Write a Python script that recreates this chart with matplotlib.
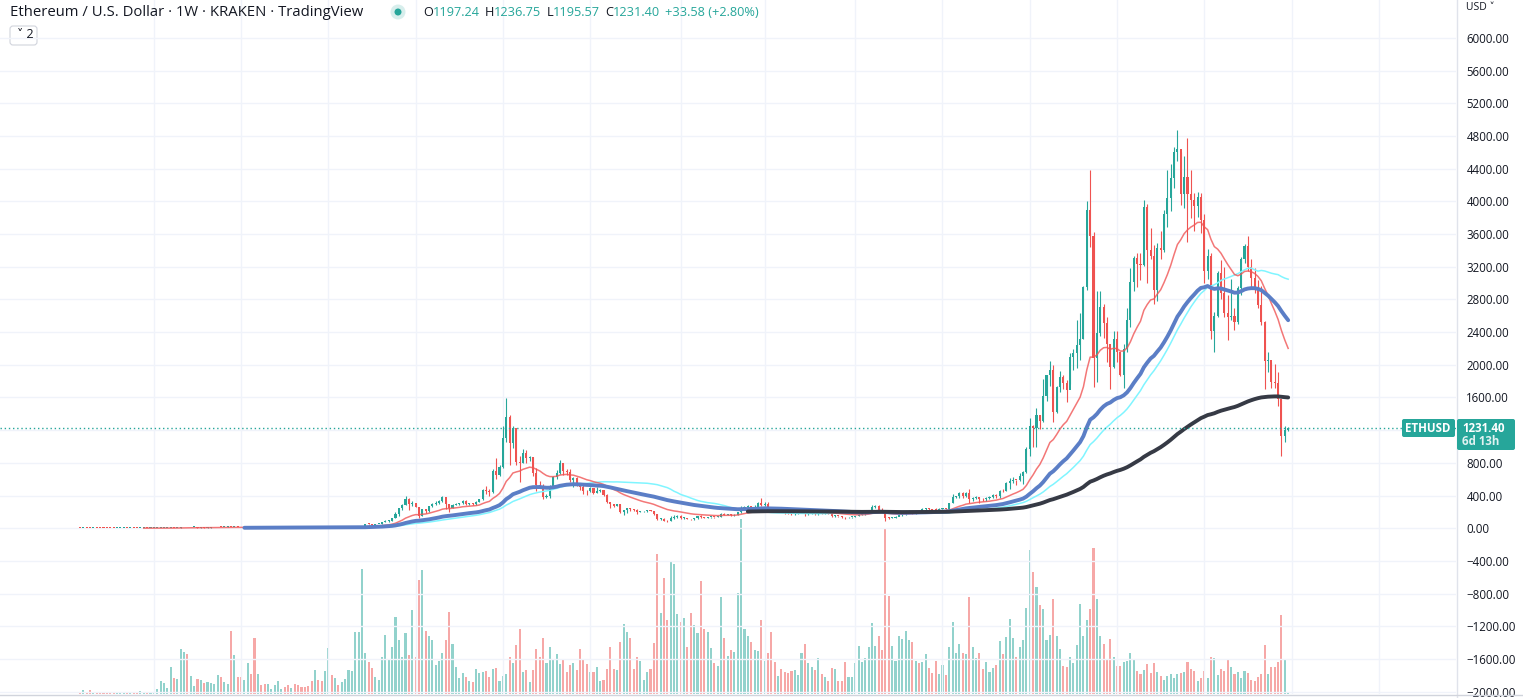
import datetime as dt

import matplotlib
matplotlib.use("Agg")
import matplotlib.pyplot as plt
import numpy as np
from matplotlib.patches import Circle, FancyBboxPatch

# weekly Kraken ETH/USD bars, first week starts Mon 2015-08-03
first_week = dt.date(2015, 8, 3)
first_open = 2.80

close_2015 = [0.75, 1.20, 1.15, 1.10, 1.35, 1.20, 0.95, 0.90, 0.73, 0.63, 0.58, 0.60, 1.00, 1.05, 0.92,
              0.95, 0.88, 0.85, 0.88, 0.92, 0.88, 0.93]
high_2015 = [3.00, 1.60, 1.45, 1.30, 1.40, 1.40, 1.25, 0.98, 0.92, 0.75, 0.65, 0.62, 1.20, 1.30, 1.08,
             1.00, 0.98, 0.90, 0.92, 0.98, 0.95, 0.96]
low_2015 = [0.70, 0.70, 1.05, 1.05, 1.08, 1.15, 0.90, 0.82, 0.65, 0.58, 0.48, 0.42, 0.58, 0.85, 0.85,
            0.85, 0.85, 0.80, 0.82, 0.84, 0.84, 0.85]

close_2016 = [0.97, 1.25, 1.50, 2.30, 2.50, 5.30, 4.40, 6.40, 9.90, 13.0, 10.6, 11.7, 11.8, 8.6, 9.4,
              7.5, 8.8, 9.4, 9.9, 13.0, 12.5, 14.0, 17.5, 12.0, 13.6, 12.0, 11.0, 11.6, 12.9, 12.4,
              11.0, 11.3, 11.0, 10.8, 11.8, 12.2, 12.5, 13.0, 13.2, 11.8, 11.7, 12.0, 11.2, 10.9, 10.0,
              9.6, 8.7, 8.2, 8.4, 7.9, 7.3, 7.95]
high_2016 = [1.00, 1.30, 1.60, 2.50, 2.70, 5.60, 5.50, 6.50, 10.5, 15.3, 13.5, 12.0, 12.2, 12.0, 9.8,
             9.5, 9.0, 9.8, 10.4, 14.5, 14.0, 14.5, 21.5, 20.0, 14.5, 14.5, 12.2, 12.5, 15.5, 14.5,
             12.7, 12.3, 11.4, 11.2, 12.2, 12.6, 12.9, 14.4, 14.0, 13.8, 12.4, 12.5, 12.2, 11.3, 11.4,
             10.2, 10.0, 8.9, 8.8, 8.6, 8.2, 8.1]
low_2016 = [0.90, 0.95, 1.20, 1.45, 2.20, 2.50, 4.20, 4.30, 6.30, 9.80, 10.2, 10.0, 11.0, 8.2, 8.3,
            7.2, 7.0, 8.6, 9.0, 9.8, 12.2, 11.9, 13.5, 10.5, 11.8, 11.5, 10.6, 10.8, 11.5, 11.9,
            5.9, 10.6, 10.6, 10.6, 10.7, 11.7, 11.8, 12.3, 12.6, 11.7, 11.4, 11.6, 11.0, 10.5, 9.6,
            9.0, 7.6, 7.9, 7.7, 7.7, 7.0, 7.2]

close_2017 = [9.8, 9.6, 10.6, 10.5, 10.7, 11.3, 12.8, 13.0, 16.2, 19.5, 28.5, 50.0, 48.0, 43.0, 48.0,
              49.0, 79.0, 87.0, 89.0, 123, 170, 250, 280, 360, 300, 305, 265, 155, 230, 205,
              270, 300, 310, 335, 380, 295, 250, 285, 300, 305, 335, 300, 305, 300, 315,
              355, 470, 460, 440, 700, 650, 750]
high_2017 = [10.3, 11.0, 11.0, 11.2, 11.5, 11.9, 13.2, 14.0, 16.5, 20.5, 30.0, 53.0, 55.0, 51.0, 50.0,
             51.0, 80.0, 98.0, 96.0, 128, 200, 250, 300, 400, 370, 330, 300, 265, 240, 230,
             270, 310, 335, 340, 390, 350, 300, 300, 310, 310, 350, 350, 310, 310, 330,
             360, 475, 520, 480, 720, 860, 770]
low_2017 = [7.9, 9.5, 9.6, 10.3, 10.4, 10.6, 11.2, 12.6, 12.9, 15.8, 19.5, 28.0, 40.0, 41.0, 42.5,
            47.0, 48.0, 71.0, 79.0, 86.0, 120, 150, 220, 280, 220, 270, 260, 130, 150, 190,
            200, 255, 280, 300, 325, 235, 195, 245, 280, 290, 300, 290, 280, 290, 290,
            315, 350, 420, 400, 435, 600, 640]

close_2018 = [1100, 1365, 1045, 1225, 815, 800, 925, 860, 870, 675, 530, 520, 380, 400, 510,
              625, 674, 796, 700, 690, 594, 620, 525, 500, 455, 450, 490, 435, 460, 470,
              405, 320, 295, 275, 295, 197, 220, 245, 232, 226, 200, 205, 206, 220, 212,
              176, 115, 117, 92, 84, 130, 135, 155]
high_2018 = [1250, 1590, 1390, 1250, 1230, 880, 975, 960, 890, 870, 735, 575, 540, 420, 530,
             640, 715, 835, 800, 730, 720, 630, 630, 540, 545, 470, 500, 490, 505, 485,
             470, 415, 310, 300, 300, 295, 225, 250, 245, 235, 230, 215, 210, 225, 225,
             215, 178, 130, 120, 95, 145, 158, 160]
low_2018 = [740, 1050, 770, 980, 770, 570, 800, 800, 820, 640, 460, 490, 360, 365, 370,
            490, 600, 660, 650, 650, 570, 510, 520, 470, 420, 410, 440, 420, 430, 440,
            400, 310, 250, 265, 270, 190, 165, 190, 210, 215, 180, 195, 195, 195, 205,
            165, 105, 105, 85, 82, 84, 115, 130]

close_2019 = [125, 128, 115, 107, 120, 145, 137, 131, 134, 137, 136, 141, 178, 167, 170,
              157, 162, 195, 250, 265, 268, 245, 262, 310, 290, 295, 225, 220, 212, 222,
              210, 195, 188, 172, 181, 197, 215, 168, 180, 188, 173, 182, 180, 185, 176,
              150, 151, 148, 141, 133, 134, 137]
high_2019 = [160, 132, 125, 117, 125, 150, 165, 140, 140, 140, 142, 145, 185, 185, 180,
             175, 168, 200, 275, 275, 285, 255, 280, 320, 365, 320, 315, 235, 225, 240,
             238, 215, 200, 190, 185, 202, 225, 215, 185, 198, 185, 198, 192, 196, 190,
             180, 160, 152, 150, 140, 135, 139]
low_2019 = [115, 115, 110, 102, 104, 118, 130, 128, 125, 131, 131, 132, 140, 160, 163,
            150, 155, 160, 185, 235, 235, 225, 240, 262, 275, 270, 195, 205, 200, 205,
            198, 175, 180, 165, 165, 175, 195, 155, 165, 175, 160, 156, 175, 178, 172,
            140, 140, 142, 130, 117, 125, 126]

close_2020 = [146, 167, 170, 190, 223, 260, 275, 225, 200, 123, 122, 130, 143, 158, 170,
              195, 208, 188, 207, 205, 232, 245, 233, 228, 226, 241, 242, 238, 305, 385,
              395, 428, 390, 435, 354, 365, 385, 355, 352, 370, 380, 405, 395, 455, 450,
              550, 575, 595, 590, 640, 685, 975]
high_2020 = [148, 175, 180, 193, 227, 290, 285, 280, 250, 200, 140, 140, 150, 175, 175,
             198, 228, 215, 210, 215, 245, 250, 250, 240, 248, 245, 250, 242, 310, 415,
             400, 445, 440, 440, 480, 385, 390, 385, 365, 378, 390, 420, 415, 470, 475,
             560, 620, 630, 595, 675, 695, 1000]
low_2020 = [134, 145, 160, 165, 185, 220, 245, 212, 195, 90, 108, 125, 125, 145, 150,
            165, 195, 178, 180, 198, 200, 225, 215, 225, 220, 222, 235, 230, 235, 305,
            370, 375, 375, 380, 310, 330, 360, 310, 330, 335, 360, 365, 370, 375, 440,
            455, 480, 550, 535, 575, 540, 680]

close_2021 = [1250, 1230, 1390, 1315, 1620, 1870, 1935, 1420, 1725, 1855, 1780, 1690, 2090, 2140, 2240,
              2310, 2950, 3900, 3580, 2080, 2386, 2713, 2510, 2250, 1977, 2312, 2160, 1875, 2190, 2549,
              3010, 3310, 3230, 3225, 3930, 3410, 3330, 2920, 3430, 3410, 3840, 4040, 4290, 4610, 4640,
              4090, 4300, 4090, 4020, 3940, 4050, 3770]
high_2021 = [1350, 1265, 1475, 1390, 1830, 1880, 2045, 2000, 1740, 1930, 1880, 1810, 2140, 2190, 2550,
             2640, 2970, 4000, 4380, 3630, 2900, 2900, 2740, 2580, 2230, 2410, 2410, 2160, 2250, 2690,
             3180, 3330, 3370, 3370, 4020, 3970, 3680, 3470, 3490, 3640, 3890, 4380, 4460, 4660, 4870,
             4610, 4550, 4780, 4380, 4100, 4120, 4100]
low_2021 = [890, 990, 1000, 1220, 1300, 1560, 1735, 1295, 1410, 1670, 1710, 1550, 1770, 1940, 1960,
            2060, 2310, 2920, 3440, 1730, 1790, 2350, 2330, 2030, 1710, 1960, 2040, 1860, 1720, 2160,
            2460, 2900, 2950, 3040, 3210, 3000, 3290, 2740, 2780, 3290, 3380, 3690, 3880, 4170, 4500,
            3950, 3920, 3500, 3800, 3640, 3810, 3610]

close_2022 = [3150, 3330, 2410, 2600, 3120, 2880, 2630, 2590, 2600, 2520, 2940, 3300, 3450, 3200, 3060,
              2920, 2730, 2520, 2050, 2060, 1790, 1780, 1580, 1130, 1197.24, 1231.40]
high_2022 = [3840, 3420, 3370, 2650, 3150, 3280, 3200, 2850, 3050, 2700, 2960, 3320, 3480, 3580, 3300,
             3190, 3040, 2960, 2540, 2160, 2030, 2010, 1910, 1580, 1250, 1236.75]
low_2022 = [3000, 3050, 2320, 2160, 2590, 2800, 2580, 2300, 2550, 2430, 2500, 2860, 3250, 3150, 2950,
            2880, 2700, 2490, 1700, 1910, 1720, 1720, 1500, 880, 1050, 1195.57]

# weekly volume (thousand ETH)
vol_2015 = [0.7, 3.7, 2.0, 3.7, 1.7, 1.7, 0.7, 0.7, 1.7, 1.7, 0.7, 1.7, 1.7, 1.7, 1.7, 1.7, 1.7, 0.7,
            2.7, 1.7, 1.7, 0.7]
vol_2016 = [1.7, 4.7, 12.7, 10.7, 5.7, 26.7, 15.7, 14.7, 44.7, 41.7, 39.7, 17.7, 7.7, 14.7, 13.7,
            10.7, 11.7, 10.7, 9.7, 18.7, 16.7, 11.7, 9.7, 62.7, 38.7, 16.7, 16.7, 13.7, 30.7, 19.7,
            55.7, 19.7, 8.7, 9.7, 9.7, 4.7, 8.7, 12.7, 4.7, 6.7, 8.7, 5.7, 9.7, 8.7, 6.7,
            6.7, 7.7, 12.7, 23.7, 13.7, 12.7, 22.7]
vol_2017 = [45.7, 18.7, 15.7, 8.7, 11.7, 14.7, 23.7, 22.7, 61.7, 61.7, 124.7, 40.7, 31.7, 25.7, 16.7,
            13.7, 36.7, 58.7, 33.7, 46.7, 76.7, 53.7, 36.7, 60.7, 38.7, 83.7, 36.7, 113.7, 123.7, 62.7,
            57.7, 53.7, 28.7, 32.7, 40.7, 53.7, 81.7, 49.7, 26.7, 15.7, 20.7, 16.7, 12.7, 11.7, 24.7,
            20.7, 21.7, 22.7, 16.7, 24.7, 25.7, 12.7]
vol_2018 = [17.7, 19.7, 36.7, 30.7, 48.7, 64.7, 21.7, 23.7, 11.7, 23.7, 44.7, 36.7, 55.7, 30.7, 46.7,
            34.7, 39.7, 29.7, 33.7, 21.7, 28.7, 30.7, 23.7, 44.7, 33.7, 29.7, 21.7, 21.7, 26.7, 12.7,
            13.7, 24.7, 46.7, 24.7, 23.7, 51.7, 69.7, 61.7, 55.7, 24.7, 36.7, 32.7, 13.7, 21.7, 24.7,
            50.7, 139.7, 80.7, 115.7, 73.7, 132.7, 129.7, 79.7]
vol_2019 = [71.7, 75.7, 46.7, 80.7, 68.7, 60.7, 112.7, 64.7, 61.7, 45.7, 30.7, 27.7, 96.7, 55.7, 37.7,
            43.7, 41.7, 100.7, 174.7, 64.7, 57.7, 51.7, 43.7, 42.7, 73.7, 32.7, 40.7, 61.7, 31.7, 17.7,
            24.7, 21.7, 20.7, 22.7, 23.7, 18.7, 40.7, 49.7, 30.7, 26.7, 23.7, 35.7, 19.7, 16.7, 12.7,
            25.7, 24.7, 12.7, 12.7, 31.7, 16.7, 16.7]
vol_2020 = [30.7, 47.7, 31.7, 35.7, 46.7, 70.7, 47.7, 57.7, 43.7, 164.7, 97.7, 47.7, 32.7, 57.7, 54.7,
            62.7, 53.7, 51.7, 32.7, 30.7, 31.7, 39.7, 25.7, 20.7, 32.7, 19.7, 28.7, 18.7, 46.7, 71.7,
            40.7, 49.7, 40.7, 39.7, 96.7, 46.7, 35.7, 40.7, 24.7, 31.7, 21.7, 25.7, 28.7, 52.7, 39.7,
            56.7, 74.7, 55.7, 36.7, 46.7, 53.7, 85.7]
vol_2021 = [143.7, 121.7, 106.7, 88.7, 84.7, 53.7, 58.7, 94.7, 57.7, 44.7, 27.7, 26.7, 36.7, 30.7, 48.7,
            89.7, 57.7, 73.7, 84.7, 145.7, 94.7, 57.7, 49.7, 34.7, 54.7, 36.7, 27.7, 27.7, 31.7, 32.7,
            40.7, 33.7, 22.7, 19.7, 23.7, 29.7, 20.7, 30.7, 21.7, 17.7, 13.7, 17.7, 19.7, 15.7, 19.7,
            20.7, 21.7, 31.7, 24.7, 22.7, 12.7, 15.7]
vol_2022 = [22.7, 15.7, 36.7, 35.7, 18.7, 24.7, 22.7, 33.7, 26.7, 19.7, 21.7, 15.7, 22.7, 20.7, 13.7,
            12.7, 16.7, 19.7, 48.7, 19.7, 26.7, 26.7, 31.7, 78.7, 33.7, 1.7]

price_ticks = list(range(-2000, 6001, 400))
hidden_tick = 1200  # covered by the last-price label
last_price = 1231.40
legend_vals = [("O", "1197.24"), ("H", "1236.75"), ("L", "1195.57"), ("C", "1231.40"), ("", "+33.58 (+2.80%)")]

UP = "#26a69a"
DOWN = "#ef5350"
TEXT = "#131722"
GRID = "#f0f3fa"


def ema(vals, n):
    out = np.full(len(vals), np.nan)
    out[n - 1] = np.mean(vals[:n])
    a = 2.0 / (n + 1)
    for i in range(n, len(vals)):
        out[i] = a * vals[i] + (1 - a) * out[i - 1]
    return out


def sma(vals, n):
    out = np.full(len(vals), np.nan)
    c = np.cumsum(np.insert(vals, 0, 0.0))
    out[n - 1:] = (c[n:] - c[:-n]) / n
    return out


def main():
    close = np.array(close_2015 + close_2016 + close_2017 + close_2018 + close_2019
                     + close_2020 + close_2021 + close_2022, dtype=float)
    high = np.array(high_2015 + high_2016 + high_2017 + high_2018 + high_2019
                    + high_2020 + high_2021 + high_2022, dtype=float)
    low = np.array(low_2015 + low_2016 + low_2017 + low_2018 + low_2019
                   + low_2020 + low_2021 + low_2022, dtype=float)
    vol = np.array(vol_2015 + vol_2016 + vol_2017 + vol_2018 + vol_2019
                   + vol_2020 + vol_2021 + vol_2022, dtype=float)
    opn = np.concatenate([[first_open], close[:-1]])
    n = len(close)
    x = np.arange(n)
    up = close >= opn
    colors = np.where(up, UP, DOWN)

    plt.rcParams["font.family"] = ["Open Sans", "DejaVu Sans"]
    W, H = 1523, 698
    fig = plt.figure(figsize=(W / 100, H / 100), dpi=100)
    rect = [0, 4 / H, 1456 / W, 694 / H]

    px = 3.356  # px per bar
    x0 = 80.0
    xlim = (-x0 / px, (1456 - x0) / px)

    # volume pane (behind)
    axv = fig.add_axes(rect, zorder=0)
    axv.bar(x, vol, width=0.62, color=colors, alpha=0.5, linewidth=0)
    axv.set_xlim(*xlim)
    axv.set_ylim(0, vol.max() / 0.2517)
    axv.axis("off")

    ax = fig.add_axes(rect, zorder=1)
    ax.patch.set_alpha(0)
    ax.set_xlim(*xlim)
    ax.set_ylim(-2029, 6465)

    # gridlines: first bar of each January / July
    gx = []
    for i in range(1, 420):
        d = first_week + dt.timedelta(weeks=i)
        p = first_week + dt.timedelta(weeks=i - 1)
        if d.month in (1, 7) and p.month != d.month:
            gx.append(i)
    for g in gx:
        ax.axvline(g, color=GRID, lw=1, zorder=0)
    for t in price_ticks:
        ax.axhline(t, color=GRID, lw=1, zorder=0)

    # candles
    ax.vlines(x, low, high, colors=colors, lw=0.8, zorder=2)
    body_lo = np.minimum(opn, close)
    body_h = np.maximum(np.abs(close - opn), 10)
    ax.bar(x, body_h, bottom=body_lo, width=0.62, color=colors, linewidth=0, zorder=3)

    # moving averages
    ax.plot(x, sma(close, 50), color="#80f5ff", lw=1.1, zorder=4)
    ax.plot(x, ema(close, 20), color="#f05555", lw=1.1, alpha=0.8, zorder=4)
    ax.plot(x, ema(close, 50), color="#5b7ec6", lw=2.8, zorder=5, solid_capstyle="round")
    ax.plot(x, ema(close, 200), color="#363a45", lw=2.8, zorder=5, solid_capstyle="round")

    # last price line
    ax.axhline(last_price, color=UP, lw=1, ls=(0, (1, 2)), zorder=6)

    ax.yaxis.tick_right()
    ax.set_yticks(price_ticks)
    ax.set_yticklabels(["" if t == hidden_tick else f"{t:.2f}".replace("-", "\u2212")
                        for t in price_ticks])
    ax.tick_params(axis="y", length=0, pad=7.5, labelsize=8.3, labelcolor=TEXT)
    for lab in ax.get_yticklabels():
        lab.set_horizontalalignment("left")
    ax.set_xticks([])
    for s in ax.spines.values():
        s.set_visible(False)

    # axis borders
    fig.add_artist(plt.Line2D([1456.5 / W, 1456.5 / W], [0, 1], color="#e0e3eb", lw=1))
    fig.add_artist(plt.Line2D([0, 1], [3.5 / H, 3.5 / H], color="#d1d4dc", lw=1))

    def fx(v):
        return v / W

    def fy(v):
        return 1 - v / H

    # header
    fig.text(fx(10), fy(12), "Ethereum / U.S. Dollar \u00b7 1W \u00b7 KRAKEN \u00b7 TradingView",
             fontsize=10.75, color=TEXT, va="center", ha="left")
    fig.add_artist(Circle((398 / 100, (H - 12) / 100), 0.075, transform=fig.dpi_scale_trans,
                          color=UP, alpha=0.18, lw=0))
    fig.add_artist(Circle((398 / 100, (H - 12) / 100), 0.035, transform=fig.dpi_scale_trans,
                          color=UP, lw=0))
    fig.canvas.draw()
    r = fig.canvas.get_renderer()
    cx = 423
    for k, v in legend_vals:
        if k:
            t = fig.text(fx(cx), fy(12), k, fontsize=9.2, color=TEXT, va="center", ha="left")
            cx += t.get_window_extent(r).width
        t = fig.text(fx(cx), fy(12), v, fontsize=9.2, color=UP, va="center", ha="left")
        cx += t.get_window_extent(r).width + 5

    fig.add_artist(FancyBboxPatch((10 / 100, (H - 45) / 100), 0.27, 0.19,
                                  boxstyle="round,pad=0,rounding_size=0.03",
                                  transform=fig.dpi_scale_trans, fc="white", ec="#d1d4dc", lw=0.8))
    fig.text(fx(17), fy(35), "\u02c5 2", fontsize=9, color=TEXT, va="center", ha="left")

    fig.text(fx(1466), fy(7), "USD \u02c5", fontsize=7.5, color=TEXT, va="center", ha="left")

    # price labels
    fig.add_artist(FancyBboxPatch((1402 / 100, (H - 437) / 100), 0.53, 0.18,
                                  boxstyle="round,pad=0,rounding_size=0.02",
                                  transform=fig.dpi_scale_trans, fc=UP, ec="none", zorder=5))
    fig.text(fx(1428), fy(428), "ETHUSD", fontsize=8.3, color="white", weight="bold",
             va="center", ha="center", zorder=6)
    fig.add_artist(FancyBboxPatch((1457 / 100, (H - 450) / 100), 0.58, 0.31,
                                  boxstyle="round,pad=0,rounding_size=0.02",
                                  transform=fig.dpi_scale_trans, fc=UP, ec="none", zorder=5))
    fig.text(fx(1462), fy(428), "1231.40", fontsize=8.3, color="white", weight="bold",
             va="center", ha="left", zorder=6)
    fig.text(fx(1462), fy(442), "6d 13h", fontsize=8.3, color="#e0f2f1", weight="bold",
             va="center", ha="left", zorder=6)

    fig.savefig("out.png", dpi=100, facecolor="white")
    return 0


if __name__ == "__main__":
    raise SystemExit(main())
